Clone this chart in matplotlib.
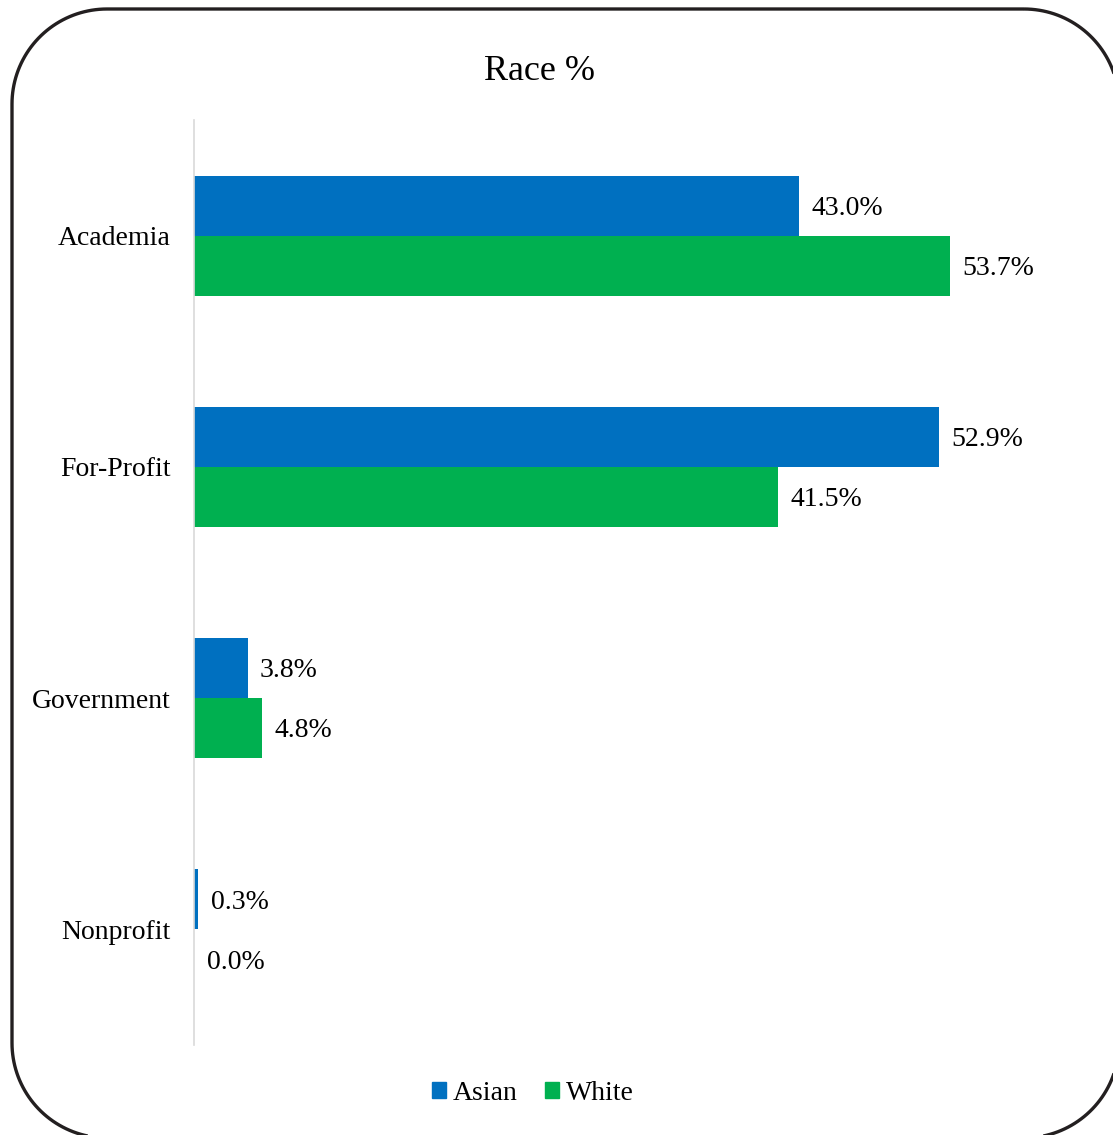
import matplotlib.pyplot as plt
import numpy as np
from matplotlib.patches import Patch, Polygon

plt.rcParams['font.family'] = ['Liberation Serif', 'DejaVu Serif']

categories = ['Academia', 'For-Profit', 'Government', 'Nonprofit']
asian = [43.0, 52.9, 3.8, 0.3]
white = [53.7, 41.5, 4.8, 0.0]

blue = '#0070C0'
green = '#00B050'

W, H = 1113, 1135
fig = plt.figure(figsize=(W / 100, H / 100), dpi=100)


def rounded_frame(x0, y0, x1, y1, r, n=40):
    # outline of a rounded rectangle, pixel units measured from the top-left
    xs, ys = [], []
    corners = [(x1 - r, y0 + r, -90, 0), (x1 - r, y1 - r, 0, 90),
               (x0 + r, y1 - r, 90, 180), (x0 + r, y0 + r, 180, 270)]
    for cx, cy, a0, a1 in corners:
        t = np.radians(np.linspace(a0, a1, n))
        xs.extend(cx + r * np.cos(t))
        ys.extend(cy + r * np.sin(t))
    return np.column_stack([np.array(xs) / 100, (H - np.array(ys)) / 100])


frame = Polygon(rounded_frame(12, 9, 1119, 1138, 95), closed=True, fill=False,
                transform=fig.dpi_scale_trans, edgecolor='#231f20',
                linewidth=2.4, joinstyle='round')
fig.patches.append(frame)

ax = fig.add_axes([194 / W, 1 - 1045 / H, (1090 - 194) / W, (1045 - 120) / H])
y = np.arange(len(categories))
h = 0.26
ax.barh(y - h / 2, asian, height=h, color=blue, label='Asian')
ax.barh(y + h / 2, white, height=h, color=green, label='White')

ax.set_xlim(0, (1090 - 194) / 14.08)
ax.set_ylim(len(categories) - 0.5, -0.5)
ax.set_yticks(y)
ax.set_yticklabels(categories, fontsize=20)
ax.tick_params(axis='y', length=0, pad=17)
ax.set_xticks([])
for s in ['top', 'right', 'bottom']:
    ax.spines[s].set_visible(False)
ax.spines['left'].set_color('#d9d9d9')
ax.spines['left'].set_linewidth(1.2)

for i in range(len(categories)):
    ax.annotate(f'{asian[i]:.1f}%', (asian[i], y[i] - h / 2), xytext=(9, -2),
                textcoords='offset points', va='center', ha='left', fontsize=20)
    ax.annotate(f'{white[i]:.1f}%', (white[i], y[i] + h / 2), xytext=(9, -2),
                textcoords='offset points', va='center', ha='left', fontsize=20)

fig.text(540 / W, 1 - 72 / H, 'Race %', ha='center', va='center', fontsize=26)

handles = [Patch(color=blue, label='Asian'), Patch(color=green, label='White')]
fig.legend(handles=handles, loc='center', bbox_to_anchor=(533 / W, 1 - 1093 / H),
           ncol=2, frameon=False, fontsize=20, handlelength=0.5, handleheight=0.5,
           handletextpad=0.25, columnspacing=1.0)

fig.savefig('out.png', dpi=100, facecolor='white')
